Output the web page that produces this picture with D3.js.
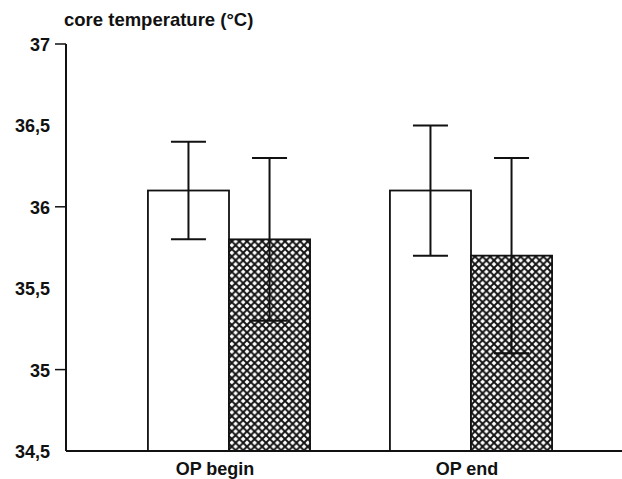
<!DOCTYPE html>
<html>
<head>
<meta charset="utf-8">
<script src="https://cdn.jsdelivr.net/npm/d3@7"></script>
<style>
html,body{margin:0;padding:0;background:#fff;}
svg{display:block;}
text{font-family:"Liberation Sans",Arial,Helvetica,sans-serif;font-weight:bold;fill:#111;}
</style>
</head>
<body>
<script>
// ---- data ----
const categories = ["OP begin", "OP end"];
const seriesNames = ["group A", "group B"];
const meanA = [36.1, 36.1];
const meanB = [35.8, 35.7];
const upperA = [36.4, 36.5];
const lowerA = [35.8, 35.7];
const upperB = [36.3, 36.3];
const lowerB = [35.3, 35.1];
const yTicks = [34.5, 35, 35.5, 36, 36.5, 37];
const yTickLabels = ["34,5", "35", "35,5", "36", "36,5", "37"];
const yTitle = "core temperature (°C)";

// ---- layout ----
const W = 622, H = 479;
const svg = d3.select("body").append("svg").attr("width", W).attr("height", H);

const P = 7.6;
const defs = svg.append("defs");
const pat = defs.append("pattern").attr("id", "xhatch")
  .attr("patternUnits", "userSpaceOnUse").attr("width", P).attr("height", P)
  .attr("x", 0).attr("y", 2);
pat.append("rect").attr("width", P).attr("height", P).attr("fill", "#fff");
pat.append("path")
  .attr("d", `M-1,-1 L${P+1},${P+1} M-1,${P+1} L${P+1},-1`)
  .attr("stroke", "#111").attr("stroke-width", 1.9);

const x0 = d3.scaleBand().domain(categories).range([108, 592]).paddingInner(0.33).paddingOuter(0.165);
const x1 = d3.scaleBand().domain(seriesNames).range([0, x0.bandwidth()]);
const y = d3.scaleLinear().domain([34.5, 37]).range([451, 44]);

const axisX = 66;

// bars
const rows = categories.map((c, i) => [
  {cat: c, s: seriesNames[0], v: meanA[i], hi: upperA[i], lo: lowerA[i]},
  {cat: c, s: seriesNames[1], v: meanB[i], hi: upperB[i], lo: lowerB[i]}
]).flat();

svg.append("g").selectAll("rect").data(rows).join("rect")
  .attr("x", d => x0(d.cat) + x1(d.s))
  .attr("y", d => y(d.v))
  .attr("width", x1.bandwidth())
  .attr("height", d => y(34.5) - y(d.v))
  .attr("fill", d => d.s === seriesNames[0] ? "#fff" : "url(#xhatch)")
  .attr("stroke", "#111").attr("stroke-width", 1.8);

// error bars
const capW = 35;
const eg = svg.append("g").attr("stroke", "#111").attr("stroke-width", 2);
rows.forEach(d => {
  const cx = x0(d.cat) + x1(d.s) + x1.bandwidth() / 2;
  eg.append("line").attr("x1", cx).attr("x2", cx).attr("y1", y(d.hi)).attr("y2", y(d.lo));
  eg.append("line").attr("x1", cx - capW / 2).attr("x2", cx + capW / 2).attr("y1", y(d.hi)).attr("y2", y(d.hi));
  eg.append("line").attr("x1", cx - capW / 2).attr("x2", cx + capW / 2).attr("y1", y(d.lo)).attr("y2", y(d.lo));
});

// y axis
const yAxis = d3.axisLeft(y).tickValues(yTicks)
  .tickFormat((d, i) => yTickLabels[i]).tickSize(0).tickPadding(16);
const ga = svg.append("g").attr("transform", `translate(${axisX},0)`).call(yAxis);
ga.select(".domain").remove();
ga.selectAll("text").style("font-size", "18px").attr("fill", "#111").attr("dy", "0.36em");
// tick marks at integer values
svg.append("g").selectAll("line").data(yTicks.filter(t => t === Math.round(t))).join("line")
  .attr("x1", axisX - 11).attr("x2", axisX).attr("y1", d => y(d)).attr("y2", d => y(d))
  .attr("stroke", "#111").attr("stroke-width", 1.5);
svg.append("line").attr("x1", axisX).attr("x2", axisX).attr("y1", y(37)).attr("y2", y(34.5))
  .attr("stroke", "#111").attr("stroke-width", 2);

// x axis
svg.append("line").attr("x1", axisX).attr("x2", 622).attr("y1", y(34.5)).attr("y2", y(34.5))
  .attr("stroke", "#111").attr("stroke-width", 2);
const labelDx = [-14, -4];
svg.append("g").selectAll("text").data(categories).join("text")
  .attr("x", (d, i) => x0(d) + x0.bandwidth() / 2 + labelDx[i])
  .attr("y", 475)
  .attr("text-anchor", "middle")
  .style("font-size", "18px")
  .text(d => d);

// title
svg.append("text").attr("x", 64).attr("y", 26).style("font-size", "18.5px").text(yTitle);
</script>
</body>
</html>
